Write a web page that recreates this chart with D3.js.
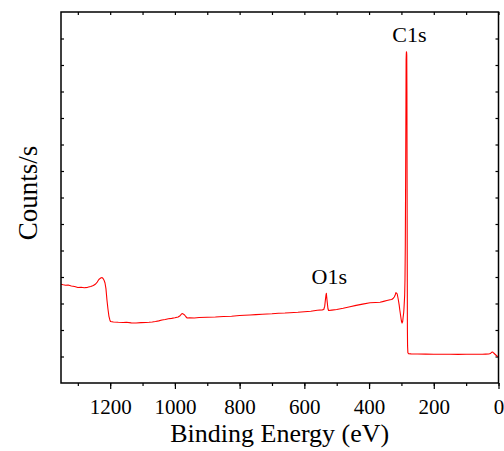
<!DOCTYPE html>
<html>
<head>
<meta charset="utf-8">
<script src="https://cdn.jsdelivr.net/npm/d3@7"></script>
<style>
  body { margin: 0; background: #fff; }
  text { font-family: "Liberation Serif", "Times New Roman", serif; }
</style>
</head>
<body>
<div id="chart"></div>
<script>
// binding energy (eV) and intensity
var energy = [1352, 1345, 1338, 1330, 1320, 1310, 1300, 1290, 1280, 1270, 1260, 1252, 1245, 1240, 1235, 1230, 1228, 1225, 1222, 1219, 1216, 1213, 1210, 1207, 1204, 1201, 1199,
  1190, 1175, 1160, 1150, 1135, 1120, 1105, 1090, 1080, 1070, 1060, 1050, 1040, 1030, 1020, 1010, 1000, 990, 984, 978, 974, 970, 966, 962, 955, 940, 925,
  900, 875, 850, 825, 800, 785, 768, 750, 730, 700, 680, 660, 645, 620, 600, 580, 560, 545, 540, 537, 535, 533, 532, 531, 529, 527, 525, 515, 500, 480, 459,
  440, 420, 397, 380, 366, 355, 345, 335, 330, 325, 322, 319, 317, 315, 313, 310, 307, 305, 302, 300, 298, 296, 295, 293, 292, 290, 289, 288, 287, 286,
  285.5, 285, 284.5, 284, 283.5, 283, 282.5, 282, 281.5, 281, 280, 278, 270, 250, 225, 200, 175, 150, 125, 100, 75, 50, 40, 30, 25, 22, 19, 17, 15, 10, 5, 0];
var counts = [3725, 3705, 3690, 3698, 3660, 3640, 3604, 3615, 3592, 3610, 3642, 3680, 3736, 3810, 3906, 3955, 3970, 3975, 3943, 3880, 3774, 3550, 3132, 2800, 2528, 2380, 2321,
  2302, 2290, 2283, 2295, 2270, 2264, 2278, 2283, 2290, 2300, 2321, 2345, 2377, 2395, 2423, 2440, 2460, 2491, 2540, 2623, 2600, 2566, 2500, 2453, 2460, 2453, 2470,
  2479, 2490, 2509, 2520, 2547, 2555, 2566, 2580, 2595, 2611, 2630, 2640, 2653, 2668, 2687, 2710, 2747, 2760, 2774, 2900, 3132, 3330, 3385, 3250, 3019, 2800, 2736, 2750, 2774, 2820, 2879,
  2930, 2975, 3030, 3040, 3045, 3080, 3113, 3140, 3151, 3200, 3245, 3330, 3408, 3390, 3358, 3170, 2950, 2755, 2500, 2340, 2264, 2330, 2453, 2650, 2830, 3300, 3887, 5200, 7660, 10500,
  12189, 12400, 12502, 12470, 12377, 11000, 7660, 4500, 2000, 1400, 1140, 1106, 1100, 1094, 1090, 1083, 1085, 1083, 1080, 1083, 1085, 1083, 1088, 1094, 1110, 1151, 1170, 1160, 1132, 1075, 1019, 992];

var xTicks = [1200, 1000, 800, 600, 400, 200, 0];
var xMinorTicks = [1300, 1200, 1100, 1000, 900, 800, 700, 600, 500, 400, 300, 200, 100, 0];
var yTicks = [1000, 2000, 3000, 4000, 5000, 6000, 7000, 8000, 9000, 10000, 11000, 12000, 13000];

var peakLabels = ["C1s", "O1s"];
var peakEnergies = [284.5, 532];
var peakCounts = [12502, 3385];

var margin = {top: 12, right: 5.5, bottom: 68, left: 61},
    width = 504 - margin.left - margin.right,
    height = 451 - margin.top - margin.bottom;

var svg = d3.select("#chart")
  .append("svg")
    .attr("width", 504)
    .attr("height", 451)
  .append("g")
    .attr("transform", "translate(" + margin.left + "," + margin.top + ")");

var x = d3.scaleLinear()
  .domain([1352, 0])
  .range([0, width]);

var y = d3.scaleLinear()
  .domain([0, 14000])
  .range([height, 0]);

// minor ticks on the bottom (outward) and top (inward)
svg.append("g")
  .attr("transform", "translate(0," + height + ")")
  .call(d3.axisBottom(x).tickValues(xMinorTicks).tickSize(3).tickFormat(""));
svg.append("g")
  .call(d3.axisBottom(x).tickValues(xMinorTicks).tickSize(3).tickFormat(""));

// labelled major ticks
var xAxis = svg.append("g")
  .attr("transform", "translate(0," + height + ")")
  .call(d3.axisBottom(x).tickValues(xTicks).tickSize(6).tickPadding(10).tickFormat(d3.format("d")));
xAxis.selectAll("text")
  .attr("font-size", 21)
  .attr("font-family", "Liberation Serif")
  .attr("fill", "#000");

// y ticks, no labels, inward on both sides
svg.append("g")
  .call(d3.axisRight(y).tickValues(yTicks).tickSize(3).tickFormat(""));
svg.append("g")
  .attr("transform", "translate(" + width + ",0)")
  .call(d3.axisLeft(y).tickValues(yTicks).tickSize(3).tickFormat(""));

svg.selectAll(".domain").remove();
svg.selectAll(".tick line").attr("stroke", "#000").attr("stroke-width", 1.2);

// the spectrum
var line = d3.line()
  .x(function(d, i) { return x(energy[i]); })
  .y(function(d) { return y(d); });

svg.append("path")
  .datum(counts)
  .attr("fill", "none")
  .attr("stroke", "#ff0000")
  .attr("stroke-width", 1.1)
  .attr("stroke-linejoin", "round")
  .attr("d", line);

// frame
svg.append("rect")
  .attr("width", width)
  .attr("height", height)
  .attr("fill", "none")
  .attr("stroke", "#000")
  .attr("stroke-width", 1.5);

// peak labels
svg.selectAll(".peak")
  .data(peakLabels)
  .enter().append("text")
    .attr("class", "peak")
    .attr("x", function(d, i) { return x(peakEnergies[i]) + 3; })
    .attr("y", function(d, i) { return y(peakCounts[i]) - 9.5; })
    .attr("text-anchor", "middle")
    .attr("font-size", 22)
    .text(function(d) { return d; });

// axis titles
svg.append("text")
  .attr("x", width / 2)
  .attr("y", height + 59)
  .attr("text-anchor", "middle")
  .attr("font-size", 26)
  .text("Binding Energy (eV)");

svg.append("text")
  .attr("transform", "translate(" + (37 - margin.left) + "," + (193 - margin.top) + ") rotate(-90)")
  .attr("text-anchor", "middle")
  .attr("font-size", 27)
  .text("Counts/s");
</script>
</body>
</html>
